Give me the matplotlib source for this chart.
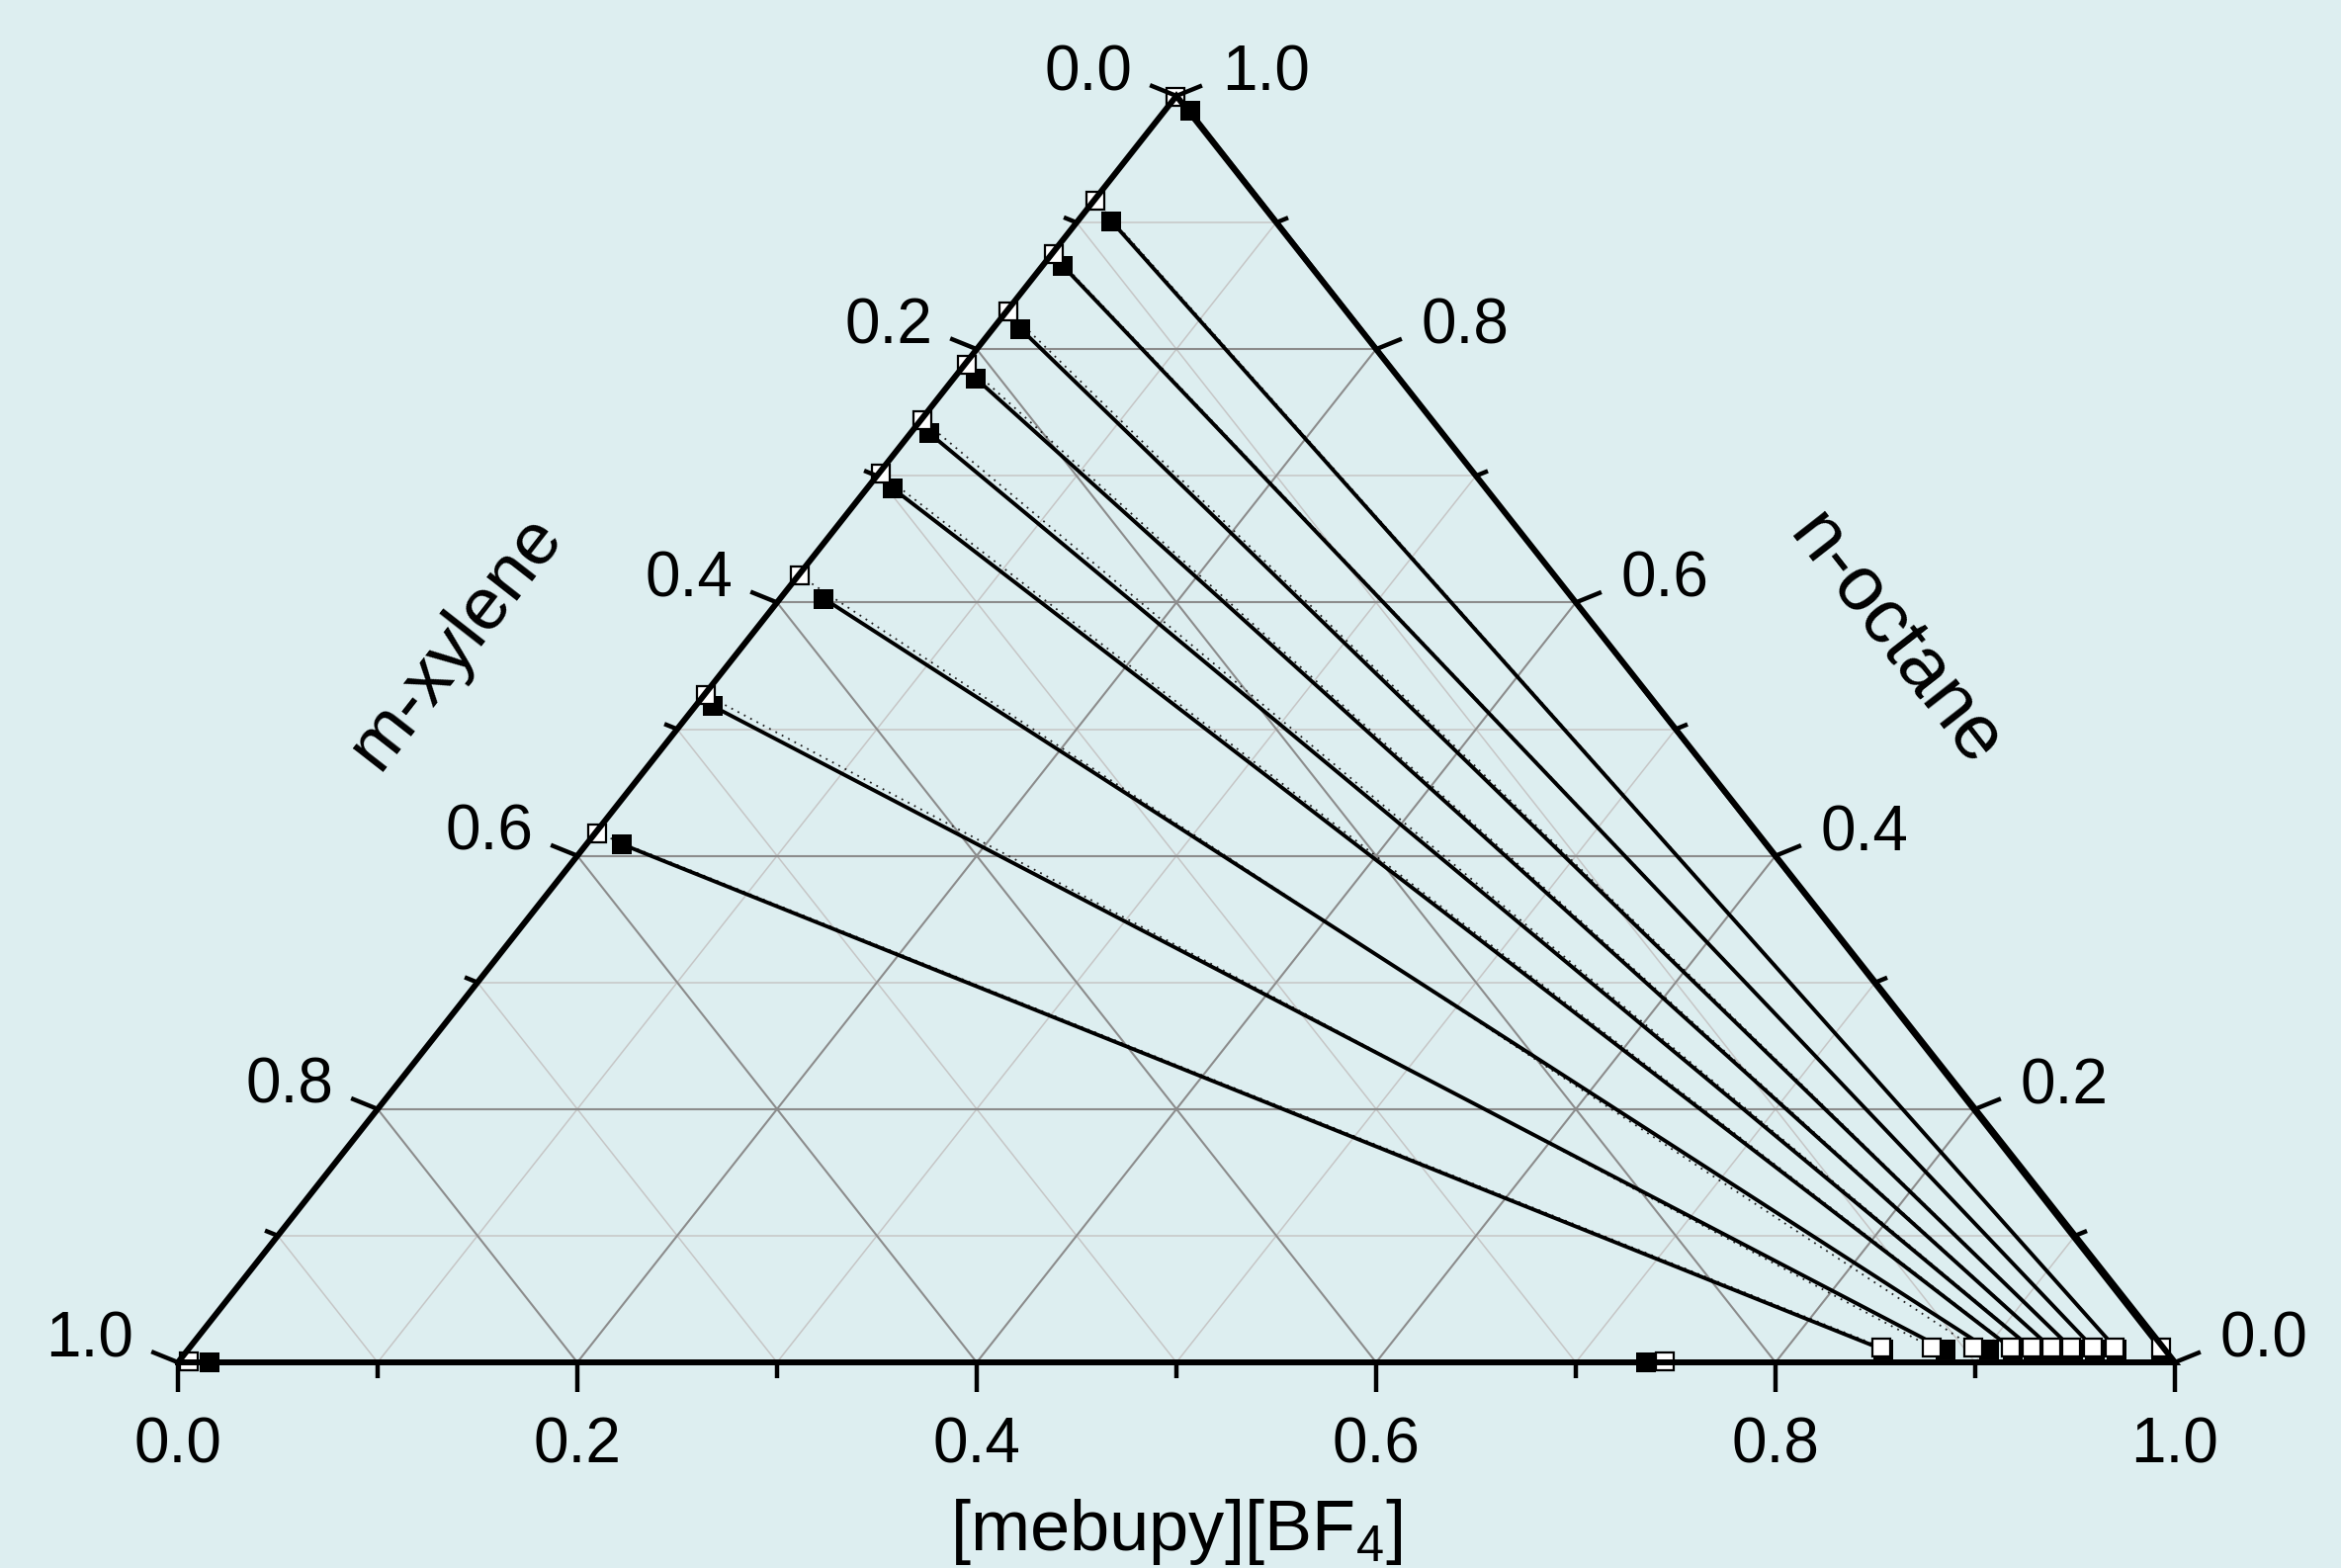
import numpy as np
import matplotlib
matplotlib.use("Agg")
import matplotlib.pyplot as plt

plt.rcParams["font.family"] = ["Liberation Sans", "DejaVu Sans"]
plt.rcParams["mathtext.default"] = "regular"

# tie lines, mole fractions of [mebupy][BF4] (IL) and n-octane; m-xylene is the rest
# experimental (filled squares): octane-rich phase -> IL-rich phase
exp_top_il = [0.013, 0.017, 0.010, 0.014, 0.011, 0.009, 0.013, 0.022, 0.009, 0.018, 0.016]
exp_top_oct = [0.988, 0.901, 0.866, 0.816, 0.777, 0.734, 0.690, 0.603, 0.518, 0.409, 0.000]
exp_bot_il = [0.988, 0.966, 0.955, 0.944, 0.934, 0.924, 0.914, 0.902, 0.880, 0.849, 0.735]
exp_bot_oct = [0.010, 0.010, 0.010, 0.010, 0.010, 0.010, 0.010, 0.010, 0.010, 0.010, 0.000]

# calculated (open squares)
calc_top_il = [0.000, 0.001, 0.001, 0.001, 0.001, 0.001, 0.001, 0.001, 0.001, 0.001, 0.005]
calc_top_oct = [0.999, 0.917, 0.875, 0.830, 0.788, 0.744, 0.702, 0.621, 0.527, 0.418, 0.001]
calc_bot_il = [0.987, 0.964, 0.953, 0.942, 0.932, 0.922, 0.912, 0.893, 0.872, 0.847, 0.744]
calc_bot_oct = [0.012, 0.012, 0.012, 0.012, 0.012, 0.012, 0.012, 0.012, 0.012, 0.012, 0.001]

tick_values = [0.0, 0.2, 0.4, 0.6, 0.8, 1.0]
minor_values = [0.1, 0.3, 0.5, 0.7, 0.9]
title_bottom = "[mebupy][BF$_4$]"
title_left = "m-xylene"
title_right = "n-octane"

BG = "#ddeef0"
MAJOR_GRID = "#8c8c8c"
MINOR_GRID = "#c6c6c6"


def xy(il, oct_):
    # ternary -> cartesian (IL along the bottom, octane up)
    il, oct_ = np.asarray(il, float), np.asarray(oct_, float)
    return il + 0.5 * oct_, oct_


fig = plt.figure(figsize=(23.68, 15.86), dpi=100, facecolor=BG)
ax = fig.add_axes([180 / 2368, 208 / 1586, 2020 / 2368, 1281 / 1586])
ax.set_xlim(0, 1)
ax.set_ylim(0, 1)
ax.axis("off")
ax.patch.set_alpha(0)

W = fig.get_figwidth() * fig.dpi * ax.get_position().width
H = fig.get_figheight() * fig.dpi * ax.get_position().height


def off(x, y, dx, dy):
    # shift a data point by screen pixels (dy downwards)
    return x + dx / W, y - dy / H


# grid
for vals, col, lw in [(minor_values, MINOR_GRID, 1.1), (tick_values[1:-1], MAJOR_GRID, 1.5)]:
    for v in vals:
        # constant octane
        a, b = xy(0, v), xy(1 - v, v)
        ax.plot([a[0], b[0]], [a[1], b[1]], color=col, lw=lw, zorder=1)
        # constant IL
        a, b = xy(v, 0), xy(v, 1 - v)
        ax.plot([a[0], b[0]], [a[1], b[1]], color=col, lw=lw, zorder=1)
        # constant xylene
        a, b = xy(1 - v, 0), xy(0, 1 - v)
        ax.plot([a[0], b[0]], [a[1], b[1]], color=col, lw=lw, zorder=1)

# tie lines
for i in range(len(exp_top_il)):
    a, b = xy(calc_top_il[i], calc_top_oct[i]), xy(calc_bot_il[i], calc_bot_oct[i])
    ax.plot([a[0], b[0]], [a[1], b[1]], color="#222222", lw=1.3, ls=(0, (1, 3)), zorder=2)
    a, b = xy(exp_top_il[i], exp_top_oct[i]), xy(exp_bot_il[i], exp_bot_oct[i])
    ax.plot([a[0], b[0]], [a[1], b[1]], color="black", lw=2.8, zorder=3)

ex, ey = xy(exp_top_il + exp_bot_il, exp_top_oct + exp_bot_oct)
cx, cy = xy(calc_top_il + calc_bot_il, calc_top_oct + calc_bot_oct)
ax.plot(ex, ey, "s", color="black", ms=14, mew=0, zorder=4, clip_on=False)
ax.plot(cx, cy, "s", mfc="white", mec="black", ms=13, mew=1.6, zorder=5, clip_on=False)

# triangle
ax.plot([0, 1, 0.5, 0], [0, 0, 1, 0], color="black", lw=4.3, zorder=6,
        solid_joinstyle="miter", clip_on=False)

TK = dict(color="black", lw=3.2, zorder=6, clip_on=False, solid_capstyle="butt")
FS = 46
LD = (0.925, 0.375)  # tick direction on the side edges (pixels)

for v in tick_values + minor_values:
    major = v in tick_values
    # bottom axis: IL
    x0, y0 = xy(v, 0)
    x1, y1 = off(x0, y0, 0, 30 if major else 16)
    ax.plot([x0, x1], [y0, y1], **TK)
    if major:
        lx, ly = off(x0, y0, 0, 84)
        ax.text(lx, ly, f"{v:.1f}", ha="center", va="center", fontsize=FS)

    # left axis: m-xylene
    L = 29 if major else 14
    x0, y0 = xy(0, 1 - v)
    x1, y1 = off(x0, y0, -LD[0] * L, -LD[1] * L)
    ax.plot([x0, x1], [y0, y1], **TK)
    if major:
        lx, ly = off(x1, y1, -18, -12)
        ax.text(lx, ly, f"{v:.1f}", ha="right", va="center", fontsize=FS)

    # right axis: n-octane
    L = 28 if major else 13
    x0, y0 = xy(1 - v, v)
    x1, y1 = off(x0, y0, LD[0] * L, -LD[1] * L)
    ax.plot([x0, x1], [y0, y1], **TK)
    if major:
        lx, ly = off(x1, y1, 20, -12)
        ax.text(lx, ly, f"{v:.1f}", ha="left", va="center", fontsize=FS)

fig.text(1190 / 2368, 1 - 1568 / 1586, title_bottom, ha="center", va="baseline", fontsize=52)
fig.text(461 / 2368, 1 - 649 / 1586, title_left, ha="center", va="center", fontsize=54,
         rotation=52, rotation_mode="anchor")
fig.text(1917 / 2368, 1 - 648 / 1586, title_right, ha="center", va="center", fontsize=56,
         rotation=-52, rotation_mode="anchor")

fig.savefig("out.png", dpi=100, facecolor=BG)
